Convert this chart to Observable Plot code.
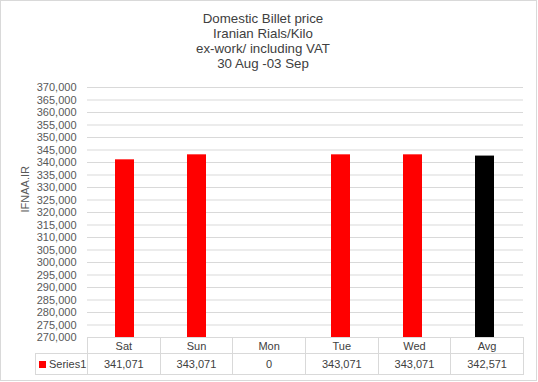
<!DOCTYPE html>
<html><head><meta charset="utf-8">
<script src="https://cdn.jsdelivr.net/npm/d3@7"></script>
<script src="https://cdn.jsdelivr.net/npm/@observablehq/plot@0.6"></script>
<style>
body{margin:0;background:#fff;}
#wrap{position:relative;width:538px;height:382px;overflow:hidden;font-family:"Liberation Sans",Arial,sans-serif;}
#frame{position:absolute;left:0;top:0;width:537px;height:381px;box-sizing:border-box;border:1px solid #d9d9d9;}
#title{position:absolute;left:0;top:11px;width:526px;text-align:center;font-size:13.3px;line-height:15px;color:#404040;}
#chart{position:absolute;left:0;top:0;}
#tbl{position:absolute;left:35px;top:337px;border-collapse:collapse;font-size:11px;color:#404040;table-layout:fixed;}
#tbl td{border:1px solid #d9d9d9;text-align:center;padding:0;white-space:nowrap;box-sizing:border-box;}
#tbl td.blank{border:none;}
#tbl tr.h td{height:16px;}
#tbl tr.v td{height:21px;}
.key{display:inline-block;width:7px;height:7px;background:#ff0000;margin-right:3px;vertical-align:0px;}
</style></head>
<body>
<div id="wrap">
  <div id="frame"></div>
  <div id="chart"></div>
  <div id="title"></div>
  <table id="tbl"></table>
</div>
<script>
const titleLines = ["Domestic Billet price", "Iranian Rials/Kilo", "ex-work/ including VAT", "30 Aug -03 Sep"];
const categories = ["Sat", "Sun", "Mon", "Tue", "Wed", "Avg"];
const values = [341071, 343071, 0, 343071, 343071, 342571];
const seriesName = "Series1";
const yLabel = "IFNAA.IR";
const yTicks = d3.range(270000, 370001, 5000);

const data = categories.map((c, i) => ({cat: c, value: values[i]}));

document.getElementById("title").innerHTML = titleLines.map(t => `<div>${t}</div>`).join("");

const chart = Plot.plot({
  width: 538,
  height: 382,
  marginTop: 87,
  marginBottom: 45,
  marginLeft: 87,
  marginRight: 15,
  style: {fontFamily: "'Liberation Sans', Arial, sans-serif", fontSize: "11px", color: "#595959", background: "transparent"},
  x: {domain: categories, paddingInner: 0.73, paddingOuter: 0.365, axis: null},
  y: {domain: [270000, 370000], clamp: true, axis: null},
  marks: [
    Plot.gridY(yTicks, {stroke: "#d9d9d9", strokeOpacity: 1}),
    Plot.axisY(yTicks, {tickSize: 0, tickPadding: 11, tickFormat: d3.format(","), label: null, fill: "#595959"}),
    Plot.barY(data, {x: "cat", y1: 270000, y2: "value", fill: d => d.cat === "Avg" ? "#000000" : "#ff0000"}),
    Plot.text([yLabel], {frameAnchor: "left", text: d => d, rotate: -90, dx: -62, fill: "#595959", fontSize: 11})
  ]
});
document.getElementById("chart").appendChild(chart);

const colW = 72.67;
const tbl = document.getElementById("tbl");
let html = `<colgroup><col style="width:52px">${categories.map(() => `<col style="width:${colW}px">`).join("")}</colgroup>`;
html += `<tr class="h"><td class="blank"></td>${categories.map(c => `<td>${c}</td>`).join("")}</tr>`;
html += `<tr class="v"><td style="text-align:left;padding-left:3px"><span class="key"></span>${seriesName}</td>${values.map(v => `<td>${d3.format(",")(v)}</td>`).join("")}</tr>`;
tbl.innerHTML = html;
tbl.style.width = (52 + colW * categories.length) + "px";
</script>
</body></html>
